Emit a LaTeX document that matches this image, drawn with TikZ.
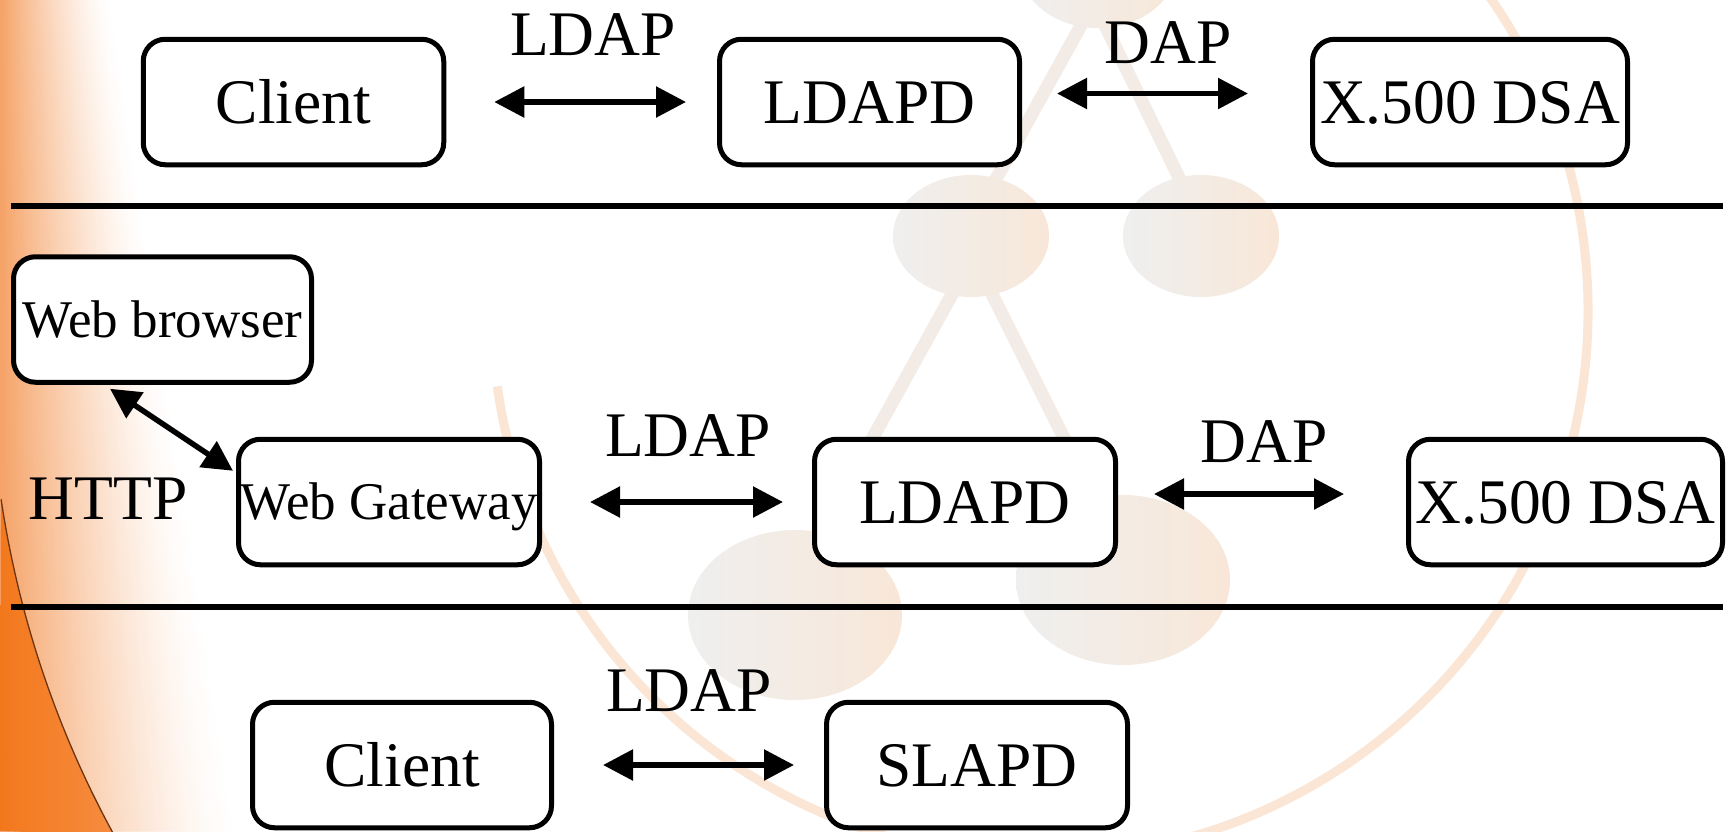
\documentclass[tikz,border=0pt]{standalone}
\usepackage{fontspec}
\setmainfont{Liberation Serif}
\usetikzlibrary{arrows.meta}
\definecolor{orL}{HTML}{F5A266}
\definecolor{orD}{HTML}{F3781C}
\definecolor{orM}{HTML}{F68C40}
\definecolor{edgeline}{HTML}{6A3510}
\definecolor{blobL}{HTML}{EFEFEF}
\definecolor{blobR}{HTML}{F8E7D8}
\definecolor{stemc}{HTML}{F3ECE6}
\definecolor{ringc}{HTML}{FBE6D5}
\tikzset{
  box/.style={draw=black, line width=5pt, rounded corners=22pt, fill=white,
    inner sep=0pt, minimum height=125.5pt, text height=42pt, text depth=0pt,
    font=\fontsize{63.5}{64}\selectfont},
  smallbox/.style={box, text height=35pt, font=\fontsize{53}{54}\selectfont},
  lbl/.style={inner sep=0pt, text height=42pt, text depth=0pt,
    font=\fontsize{63.5}{64}\selectfont},
  dbl/.style={line width=5.5pt,
    {Triangle[length=30pt,width=30pt]}-{Triangle[length=30pt,width=30pt]}},
  sepline/.style={line width=5.5pt},
  blob/.style={left color=blobL, right color=blobR},
  stem/.style={draw=stemc, line width=13pt},
}
\begin{document}
\begin{tikzpicture}[x=1pt,y=-1pt]
\clip (0,0) rectangle (1736,831);
\fill[white] (0,0) rectangle (1736,831);

% left orange glow
\foreach \i in {60,59,...,1}{
  \pgfmathsetmacro\t{\i/60}
  \pgfmathsetmacro\p{100*((1-(\i-0.5)/60)^1.4)}
  \fill[orL!\p!white] (0,0) -- (\t*110,0) -- (\t*235,831) -- (0,831) -- cycle;
}
\shade[left color=orD, right color=orM]
  (1.1,499.3) arc[start angle=171.5, end angle=151.3, radius=1010] -- (0,831) -- cycle;
\draw[edgeline, line width=1.3pt]
  (1.1,499.3) arc[start angle=171.5, end angle=151.3, radius=1010];

% faint background ring and molecule
\draw[ringc, line width=9pt] (497.3,386.3) arc[start angle=172, end angle=-36, radius=548];
\draw[stem] (1095,0) -- (990,190);
\draw[stem] (1100,15) -- (1185,190);
\draw[stem] (960,280) -- (830,515);
\draw[stem] (985,280) -- (1090,490);
\shade[blob] (1098,-33) ellipse [x radius=78, y radius=61];
\shade[blob] (971,236) ellipse [x radius=78, y radius=61];
\shade[blob] (1201,236) ellipse [x radius=78, y radius=61];
\shade[blob] (795,615) ellipse [x radius=107, y radius=85];
\shade[blob] (1123,580) ellipse [x radius=107, y radius=85];

% separators
\coordinate (s1a) at (11,206);  \coordinate (s1b) at (1723,206);
\coordinate (s2a) at (11,607);  \coordinate (s2b) at (1723,607);
\draw[sepline] (s1a) -- (s1b);
\draw[sepline] (s2a) -- (s2b);

% row 1
\node[box, minimum width=300.5pt] (c1) at (293.5,102) {Client};
\node[box, minimum width=300pt]   (l1) at (869.5,102) {LDAPD};
\node[box, minimum width=315pt]   (x1) at (1470,102)  {X.500 DSA};
\node[lbl] (lab1) at (593,34)  {LDAP};
\node[lbl] (lab2) at (1168,42) {DAP};
\draw[dbl] ([xshift=48pt]c1.east) -- ([xshift=-31pt]l1.west);
\draw[dbl] ([xshift=35pt,yshift=8.5pt]l1.east) -- ([xshift=-62pt,yshift=8.5pt]x1.west);

% row 2
\node[smallbox, minimum width=298pt] (wb) at (162.5,319.5) {Web browser};
\node[smallbox, minimum width=301pt] (wg) at (389,502)     {Web Gateway};
\node[box, minimum width=301pt]      (l2) at (965,502)     {LDAPD};
\node[box, minimum width=314pt]      (x2) at (1565.5,502)  {X.500 DSA};
\node[lbl] (lab3) at (108,498)  {HTTP};
\node[lbl] (lab4) at (688,435)  {LDAP};
\node[lbl] (lab5) at (1264,441) {DAP};
\draw[dbl] ([shift={(99pt,-4pt)}]wb.south west) -- ([shift={(-3pt,-34pt)}]wg.north west);
\draw[dbl] ([xshift=48pt]wg.east) -- ([xshift=-29pt]l2.west);
\draw[dbl] ([xshift=36pt,yshift=8pt]l2.east) -- ([xshift=-62pt,yshift=8pt]x2.west);

% row 3
\node[box, minimum width=299pt] (c3) at (402,765) {Client};
\node[box, minimum width=301pt] (s3) at (977,765) {SLAPD};
\node[lbl] (lab6) at (689,690) {LDAP};
\draw[dbl] ([xshift=49pt]c3.east) -- ([xshift=-30pt]s3.west);
\end{tikzpicture}
\end{document}
